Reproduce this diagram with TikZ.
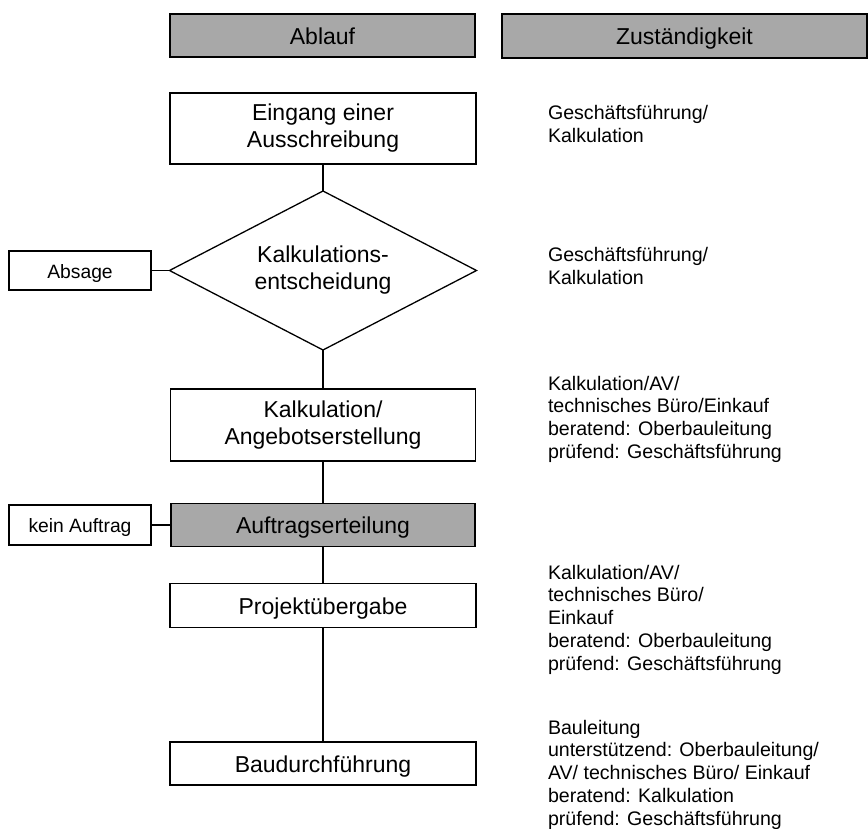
\documentclass[tikz,border=0pt]{standalone}
\usepackage{fontspec}
\setmainfont{Liberation Sans}
\usetikzlibrary{shapes.geometric}
\definecolor{boxgray}{RGB}{168,168,168}
\tikzset{
  flowbox/.style={draw=black, line width=1.3pt, fill=white, inner sep=0pt, outer sep=0pt,
    align=center, font=\fontsize{23}{27}\selectfont},
  oneline/.style={text height=17.5pt, text depth=0pt},
  graybox/.style={flowbox, fill=boxgray},
  sidebox/.style={draw=black, line width=1.3pt, fill=white, inner sep=0pt, outer sep=0pt,
    align=center, font=\fontsize{19.3}{23}\selectfont, text height=15.5pt, text depth=0pt},
  decision/.style={draw=black, line width=1.3pt, fill=white, diamond, aspect=2, inner sep=0pt, outer sep=0pt,
    minimum width=307pt, minimum height=159pt, align=center, font=\fontsize{23}{27}\selectfont},
  resp/.style={anchor=north west, inner sep=0pt, outer sep=0pt, align=left,
    font=\fontsize{19.6}{22.8}\selectfont},
  link/.style={draw=black, line width=1.1pt}
}
\newcommand{\topstrut}{\rule{0pt}{15pt}}
\begin{document}
\begin{tikzpicture}[x=1pt,y=-1pt]
\useasboundingbox (0,0) rectangle (868,829);
% headers
\node[graybox, oneline, minimum width=305pt, minimum height=43pt] (hablauf) at (322.5,35.5) {Ablauf};
\node[graybox, oneline, minimum width=365pt, minimum height=44pt] (hzust) at (684.5,36) {Zuständigkeit};
% flow
\node[flowbox, minimum width=306pt, minimum height=71pt] (eingang) at (323,128.5) {Eingang einer\\Ausschreibung};
\node[decision] (entsch) at (323,270.5) {Kalkulations-\\entscheidung};
\node[sidebox, minimum width=142pt, minimum height=39pt] (absage) at (80,270.5) {Absage};
\node[flowbox, minimum width=305pt, minimum height=72pt] (kalk) at (323,425) {Kalkulation/\\Angebotserstellung};
\node[graybox, oneline, minimum width=304pt, minimum height=43pt] (auftrag) at (323,525) {Auftragserteilung};
\node[sidebox, minimum width=142pt, minimum height=40pt] (kein) at (80,525) {kein Auftrag};
\node[flowbox, oneline, minimum width=306pt, minimum height=44pt] (projekt) at (323,605.5) {Projektübergabe};
\node[flowbox, oneline, minimum width=306pt, minimum height=43pt] (bau) at (323,763.5) {Baudurchführung};
% connectors
\draw[link] (eingang.south) -- (entsch.north);
\draw[link] (entsch.south) -- (kalk.north);
\draw[link] (kalk.south) -- (auftrag.north);
\draw[link] (auftrag.south) -- (projekt.north);
\draw[link] (projekt.south) -- (bau.north);
\draw[link] (absage.east) -- (entsch.west);
\draw[link] (kein.east) -- (auftrag.west);
% responsibilities
\node[resp] (r1) at (548,105) {\topstrut Geschäftsführung/\\Kalkulation};
\node[resp] (r2) at (548,247) {\topstrut Geschäftsführung/\\Kalkulation};
\node[resp] (r3) at (548,375) {\topstrut Kalkulation/AV/\\technisches Büro/Einkauf\\beratend: Oberbauleitung\\prüfend: Geschäftsführung};
\node[resp] (r4) at (548,564) {\topstrut Kalkulation/AV/\\technisches Büro/\\Einkauf\\beratend: Oberbauleitung\\prüfend: Geschäftsführung};
\node[resp] (r5) at (548,719) {\topstrut Bauleitung\\unterstützend: Oberbauleitung/\\AV/ technisches Büro/ Einkauf\\beratend: Kalkulation\\prüfend: Geschäftsführung};
\end{tikzpicture}
\end{document}
